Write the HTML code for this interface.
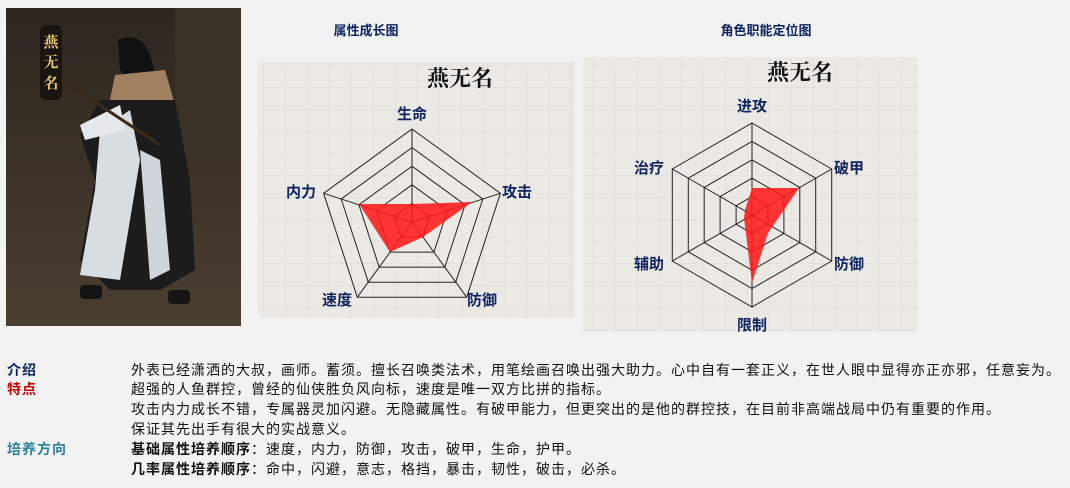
<!DOCTYPE html>
<html><head><meta charset="utf-8"><style>
body{margin:0;width:1070px;height:488px;background:#f2f2f2;font-family:"Liberation Sans","Noto Sans CJK SC",sans-serif;overflow:hidden;position:relative}
.t{position:absolute;font-size:14px;letter-spacing:1px;color:#111;white-space:nowrap;line-height:20px}
.l{position:absolute;font-size:14px;letter-spacing:1px;font-weight:bold;line-height:20px}
</style></head><body>
<svg width="1070" height="488" style="position:absolute;left:0;top:0">
<defs>
<pattern id="g" width="22" height="22" patternUnits="userSpaceOnUse"><rect width="22" height="22" fill="#ebe9e4"/><path d="M22 0V22H0" fill="none" stroke="#dcdad4" stroke-width="1"/></pattern>
<linearGradient id="bg" x1="0" y1="0" x2="0" y2="1"><stop offset="0" stop-color="#2e2720"/><stop offset="1" stop-color="#4a3e30"/></linearGradient>
</defs>
<rect x="6" y="8" width="235" height="318" fill="url(#bg)"/>
<rect x="175" y="8" width="66" height="150" fill="#3a3228"/>
<rect x="40" y="25" width="22" height="75" rx="6" fill="#1a1510"/>
<text x="51" y="47" font-size="15" fill="#e8c870" text-anchor="middle" font-family="Noto Serif CJK SC,serif" font-weight="bold">燕</text>
<text x="51" y="67" font-size="15" fill="#e8c870" text-anchor="middle" font-family="Noto Serif CJK SC,serif" font-weight="bold">无</text>
<text x="51" y="88" font-size="15" fill="#e8c870" text-anchor="middle" font-family="Noto Serif CJK SC,serif" font-weight="bold">名</text>
<path d="M118 40 Q140 30 150 55 L160 90 L140 95 L120 70Z" fill="#111"/>
<path d="M115 75 L165 70 L175 105 L110 100Z" fill="#a08060"/>
<path d="M100 100 L175 100 L190 180 L195 270 L160 290 L110 290 L80 260 L95 180 L80 135Z" fill="#1c1c1c"/>
<path d="M100 130 L130 110 L140 160 L120 280 L80 275 L95 190Z" fill="#d8dde2"/>
<path d="M140 150 L160 160 L170 270 L150 280Z" fill="#cfd5da"/>
<path d="M80 125 L120 105 L125 130 L85 140Z" fill="#e5e8ea"/>
<rect x="80" y="285" width="22" height="14" rx="4" fill="#151515"/>
<rect x="168" y="290" width="22" height="14" rx="4" fill="#151515"/>
<line x1="62" y1="80" x2="160" y2="145" stroke="#3a2a1a" stroke-width="3"/>
<rect x="258" y="62" width="317" height="256" fill="url(#g)"/>
<rect x="583" y="57" width="335" height="275" fill="url(#g)"/>
<g fill="none" stroke="#222" stroke-width="1">
<polygon points="412,129 500.4,193.3 466.7,297.2 357.3,297.2 323.6,193.3"/>
<polygon points="412,147.6 482.8,199 455.7,282.2 368.3,282.2 341.2,199"/>
<polygon points="412,166.2 465.1,204.8 444.8,267.1 379.2,267.1 358.9,204.8"/>
<polygon points="412,184.8 447.4,210.5 433.9,252.1 390.1,252.1 376.6,210.5"/>
<polygon points="412,203.4 429.7,216.3 422.9,237 401.1,237 394.3,216.3"/>
<path d="M412 222L412 129M412 222L500.4 193.3M412 222L466.7 297.2M412 222L357.3 297.2M412 222L323.6 193.3"/>
</g>
<polygon points="412,204 472,202 423,237 390,252 359,204" fill="#ff1a1a" fill-opacity="0.88"/>
<g fill="none" stroke="#222" stroke-width="1">
<polygon points="752,123 831.7,169 831.7,261 752,307 672.3,261 672.3,169"/>
<polygon points="752,141.4 815.7,178.2 815.7,251.8 752,288.6 688.3,251.8 688.3,178.2"/>
<polygon points="752,159.8 799.8,187.4 799.8,242.6 752,270.2 704.2,242.6 704.2,187.4"/>
<polygon points="752,178.2 783.9,196.6 783.9,233.4 752,251.8 720.1,233.4 720.1,196.6"/>
<polygon points="752,196.6 767.9,205.8 767.9,224.2 752,233.4 736.1,224.2 736.1,205.8"/>
<path d="M752 123V307M672.3 169L831.7 261M672.3 261L831.7 169"/>
</g>
<polygon points="752,188 799,188 768,233 752,283 744,218 745,210" fill="#ff1a1a" fill-opacity="0.88"/>
<g font-family="Noto Serif CJK SC,serif" font-size="22" font-weight="bold" fill="#111" text-anchor="middle">
<text x="460" y="86">燕无名</text><text x="800" y="80">燕无名</text></g>
<g font-size="15" font-weight="bold" fill="#0d2460" font-family="Liberation Sans,Noto Sans CJK SC,sans-serif">
<text x="412" y="119" text-anchor="middle">生命</text>
<text x="502" y="197">攻击</text>
<text x="467" y="305">防御</text>
<text x="322" y="305">速度</text>
<text x="286" y="197">内力</text>
<text x="752" y="111" text-anchor="middle">进攻</text>
<text x="834" y="173">破甲</text>
<text x="834" y="269">防御</text>
<text x="752" y="330" text-anchor="middle">限制</text>
<text x="634" y="269">辅助</text>
<text x="634" y="173">治疗</text>
</g>
<g font-size="13" font-weight="bold" fill="#0d2460" text-anchor="middle">
<text x="366" y="35">属性成长图</text><text x="766" y="35">角色职能定位图</text></g>
</svg>
<div class="l" style="left:7px;top:360px;color:#0d2460">介绍</div>
<div class="l" style="left:7px;top:379px;color:#cc0000">特点</div>
<div class="l" style="left:7px;top:439px;color:#2a7f9a">培养方向</div>
<div class="t" style="left:131px;top:360px">外表已经潇洒的大叔，画师。蓄须。擅长召唤类法术，用笔绘画召唤出强大助力。心中自有一套正义，在世人眼中显得亦正亦邪，任意妄为。</div>
<div class="t" style="left:131px;top:379px">超强的人鱼群控，曾经的仙侠胜负风向标，速度是唯一双方比拼的指标。</div>
<div class="t" style="left:131px;top:399px">攻击内力成长不错，专属器灵加闪避。无隐藏属性。有破甲能力，但更突出的是他的群控技，在目前非高端战局中仍有重要的作用。</div>
<div class="t" style="left:131px;top:419px">保证其先出手有很大的实战意义。</div>
<div class="t" style="left:131px;top:439px"><b>基础属性培养顺序</b>：速度，内力，防御，攻击，破甲，生命，护甲。</div>
<div class="t" style="left:131px;top:459px"><b>几率属性培养顺序</b>：命中，闪避，意志，格挡，暴击，韧性，破击，必杀。</div>
</body></html>
